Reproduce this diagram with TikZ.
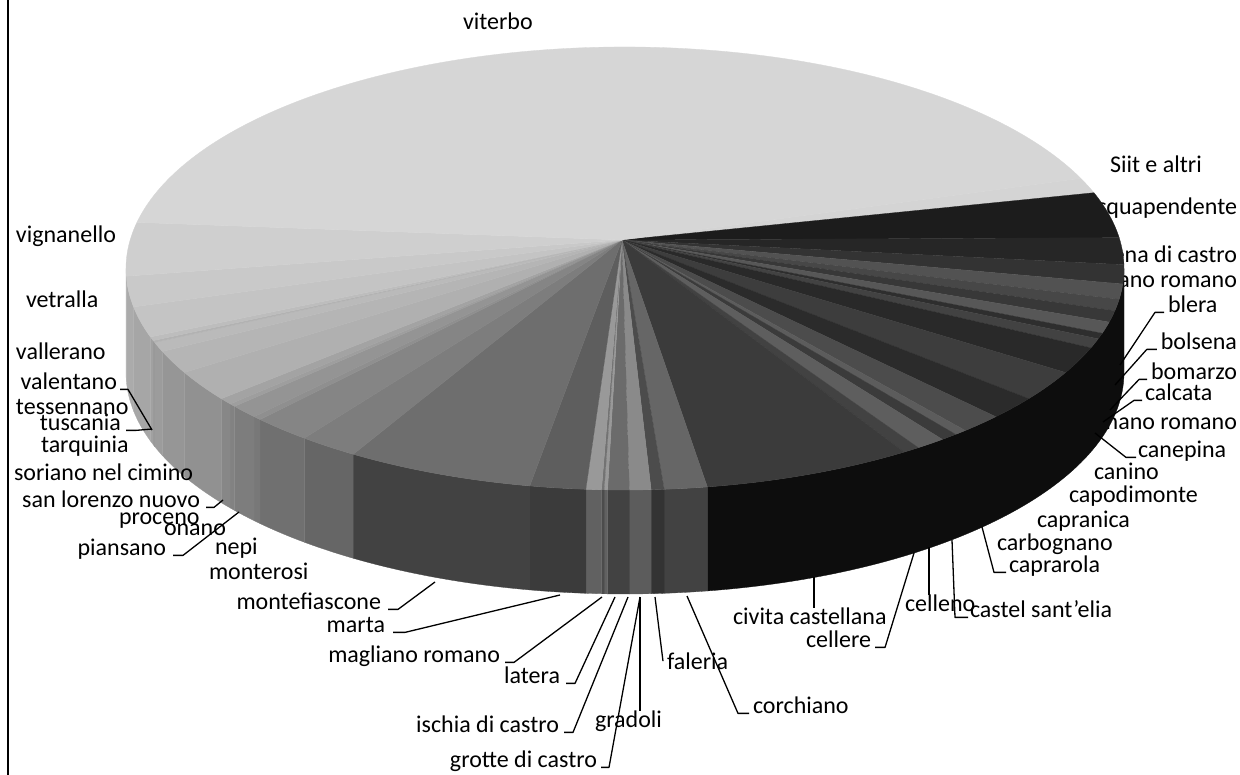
\documentclass[tikz,border=0pt]{standalone}
\usepackage{fontspec}
\setmainfont{Carlito}
\begin{document}
\begin{tikzpicture}[x=1pt,y=-1pt,
  lab/.style={inner sep=0pt,outer sep=0pt,font=\fontsize{24}{28}\selectfont},
  leader/.style={draw=black,line width=1.3pt,line join=round}]
\useasboundingbox (0,0) rectangle (1240,775);
\def\cx{625}\def\cy{268.5}\def\rx{499}\def\ry{221.5}\def\dep{104}
\coordinate (apex) at (622,240);
% labels partly hidden behind the pie
\node[lab,anchor=mid east] (acq) at (1237,212) {acquapendente};
\node[lab,anchor=mid east] (arlena) at (1237,260) {arlena di castro};
\node[lab,anchor=mid east] (barb) at (1237,285) {barbarano romano};
\node[lab,anchor=mid east] (campagnano) at (1237,427) {campagnano romano};
% side band
\foreach \ta/\tb/\g in {0/80.5/95, 80.5/85.5/74, 85.5/87/80, 87/89.5/64, 89.5/92/74, 92/92.4/62, 92.4/92.7/70, 92.7/94.5/62,
  94.5/101/77, 101/123/74, 123/130/60, 130/137/56, 137/138/53, 138/141.5/51, 141.5/142.3/49, 142.3/144/47,
  144/152/43, 152/158/41, 158/160.5/39, 160.5/161/41, 161/162/37, 162/170/35, 170/178/33, 178/180/31}{
  \filldraw[fill=black!\g,draw=black!\g,line width=0.3pt]
    ({\cx+\rx*cos(\ta)},{\cy+\ry*sin(\ta)}) arc[start angle=\ta,end angle=\tb,x radius=\rx,y radius=\ry]
    -- ++(0,\dep) arc[start angle=\tb,end angle=\ta,x radius=\rx,y radius=\ry] -- cycle;
}
% top face
\foreach \ta/\tb/\g in {-24/-20/17, -20/-8/89, -8/-1/85, -1/4/80, 4/8/68, 8/11/72, 11/14/78, 14/17/66, 17/18.5/82,
  18.5/21/74, 21/28/84, 28/36/76, 36/42/83, 42/47/70, 47/48.5/64, 48.5/50.5/77, 50.5/54/63, 54/56/74, 56/80.5/77,
  80.5/85.5/60, 85.5/87/70, 87/89.5/46, 89.5/92/58, 92/92.4/40, 92.4/92.7/55, 92.7/94.5/40, 94.5/101/63, 101/123/57,
  123/130/51, 130/137/48, 137/138/44, 138/141.5/42, 141.5/142.3/38, 142.3/144/36, 144/152/31, 152/158/29,
  158/160.5/27, 160.5/161/30, 161/162/26, 162/170/23, 170/178/21, 178/192/19, 192/336/16}{
  \filldraw[fill=black!\g,draw=black!\g,line width=0.3pt,line join=round]
    (apex) -- ({\cx+\rx*cos(\ta)},{\cy+\ry*sin(\ta)}) arc[start angle=\ta,end angle=\tb,x radius=\rx,y radius=\ry] -- cycle;
}
% frame line at left
\draw[line width=2.2pt] (8,0) -- (8,775);
% labels
\node[lab,anchor=mid west] (viterbo) at (463,27) {viterbo};
\node[lab,anchor=mid west] (siit) at (1110,170) {Siit e altri};
\node[lab,anchor=mid west] (blera) at (1168,310) {blera};
\node[lab,anchor=mid east] (bolsena) at (1237,347) {bolsena};
\node[lab,anchor=mid east] (bomarzo) at (1237,377) {bomarzo};
\node[lab,anchor=mid west] (calcata) at (1145,398) {calcata};
\node[lab,anchor=mid west] (canepina) at (1138,455) {canepina};
\node[lab,anchor=mid west] (canino) at (1094,477) {canino};
\node[lab,anchor=mid west] (capodimonte) at (1069,500) {capodimonte};
\node[lab,anchor=mid west] (capranica) at (1037,525) {capranica};
\node[lab,anchor=mid west] (carbognano) at (997,548) {carbognano};
\node[lab,anchor=mid west] (caprarola) at (1009,570) {caprarola};
\node[lab,anchor=mid west] (cse) at (970,615) {castel sant'elia};
\node[lab,anchor=mid west] (celleno) at (905,609) {celleno};
\node[lab,anchor=mid west] (civita) at (733,622) {civita castellana};
\node[lab,anchor=mid west] (cellere) at (806,645) {cellere};
\node[lab,anchor=mid west] (faleria) at (667,667) {faleria};
\node[lab,anchor=mid west] (corchiano) at (753,711) {corchiano};
\node[lab,anchor=mid west] (gradoli) at (595,725) {gradoli};
\node[lab,anchor=mid east] (grotte) at (597,765) {grotte di castro};
\node[lab,anchor=mid east] (ischia) at (559,730) {ischia di castro};
\node[lab,anchor=mid east] (latera) at (560,681) {latera};
\node[lab,anchor=mid east] (magliano) at (500,660) {magliano romano};
\node[lab,anchor=mid east] (marta) at (385,630) {marta};
\node[lab,anchor=mid east] (montefiascone) at (381,607) {montefiascone};
\node[lab,anchor=mid west] (monterosi) at (209,577) {monterosi};
\node[lab,anchor=mid west] (nepi) at (215,552) {nepi};
\node[lab,anchor=mid east] (piansano) at (166,553) {piansano};
\node[lab,anchor=mid west] (proceno) at (119,522) {proceno};
\node[lab,anchor=mid west] (onano) at (164,533) {onano};
\node[lab,anchor=mid east] (sanlorenzo) at (200,505) {san lorenzo nuovo};
\node[lab,anchor=mid west] (soriano) at (14,478) {soriano nel cimino};
\node[lab,anchor=mid west] (tarquinia) at (41,450) {tarquinia};
\node[lab,anchor=mid east] (tuscania) at (121,428) {tuscania};
\node[lab,anchor=mid west] (tessennano) at (16,412) {tessennano};
\node[lab,anchor=mid east] (valentano) at (117,387) {valentano};
\node[lab,anchor=mid west] (vallerano) at (16,357) {vallerano};
\node[lab,anchor=mid west] (vetralla) at (26,305) {vetralla};
\node[lab,anchor=mid west] (vignanello) at (16,240) {vignanello};
% leader end points on the pie
\coordinate (p-blera) at (1120,365);
\coordinate (p-bolsena) at (1115,385);
\coordinate (p-bomarzo) at (1110,410);
\coordinate (p-calcata) at (1103,422);
\coordinate (p-canepina) at (1095,433);
\coordinate (p-caprarola) at (982,527);
\coordinate (p-cse) at (952,540);
\coordinate (p-celleno) at (929,547);
\coordinate (p-cellere) at (914,553);
\coordinate (p-civita) at (814,577);
\coordinate (p-corchiano) at (687,596);
\coordinate (p-faleria) at (655,597);
\coordinate (p-gradoli) at (640,597);
\coordinate (p-grotte) at (640,597);
\coordinate (p-ischia) at (628,597);
\coordinate (p-latera) at (615,597);
\coordinate (p-magliano) at (602,597);
\coordinate (p-marta) at (560,595);
\coordinate (p-montefiascone) at (435,582);
\coordinate (p-piansano) at (239,512);
\coordinate (p-sanlorenzo) at (223,500);
\coordinate (p-tuscania) at (152,429);
\coordinate (p-valentano) at (152,430);
% leaders
\draw[leader] (blera.base west) ++(-4,0) -- ++(-9,0) -- (p-blera);
\draw[leader] (bolsena.base west) ++(-4,0) -- ++(-10,0) -- (p-bolsena);
\draw[leader] (bomarzo.base west) ++(-4,0) -- ++(-8,0) -- (p-bomarzo);
\draw[leader] (calcata.base west) ++(-3,0) -- ++(-8,0) -- (p-calcata);
\draw[leader] (canepina.base west) ++(-2,0) -- ++(-10,0) -- (p-canepina);
\draw[leader] (caprarola.base west) ++(-3,0) -- ++(-12,0) -- (p-caprarola);
\draw[leader] (cse.base west) ++(-2,0) -- ++(-13,0) -- (p-cse);
\draw[leader] (p-celleno) -- (p-celleno |- celleno.north);
\draw[leader] (cellere.base east) ++(4,0) -- ++(10,0) -- (p-cellere);
\draw[leader] (p-civita) -- (p-civita |- civita.north);
\draw[leader] (corchiano.base west) ++(-4,0) -- ++(-11,0) -- (p-corchiano);
\draw[leader] (p-faleria) -- ([xshift=-4pt]faleria.west);
\draw[leader] (p-gradoli) -- (p-gradoli |- gradoli.north);
\draw[leader] (grotte.base east) ++(4,0) -- ++(8,0) -- (p-grotte);
\draw[leader] (ischia.base east) ++(5,0) -- ++(9,0) -- (p-ischia);
\draw[leader] (latera.base east) ++(6,0) -- ++(9,0) -- (p-latera);
\draw[leader] (magliano.base east) ++(5,0) -- ++(9,0) -- (p-magliano);
\draw[leader] (marta.base east) ++(8,0) -- ++(12,0) -- (p-marta);
\draw[leader] (montefiascone.base east) ++(7,0) -- ++(10,0) -- (p-montefiascone);
\draw[leader] (piansano.base east) ++(7,0) -- ++(10,0) -- (p-piansano);
\draw[leader] (sanlorenzo.base east) ++(6,0) -- ++(8,0) -- (p-sanlorenzo);
\draw[leader] (tuscania.base east) ++(5,0) -- ++(10,0) -- (p-tuscania);
\draw[leader] (valentano.base east) ++(3,0) -- ++(8,0) -- (p-valentano);
\end{tikzpicture}
\end{document}
